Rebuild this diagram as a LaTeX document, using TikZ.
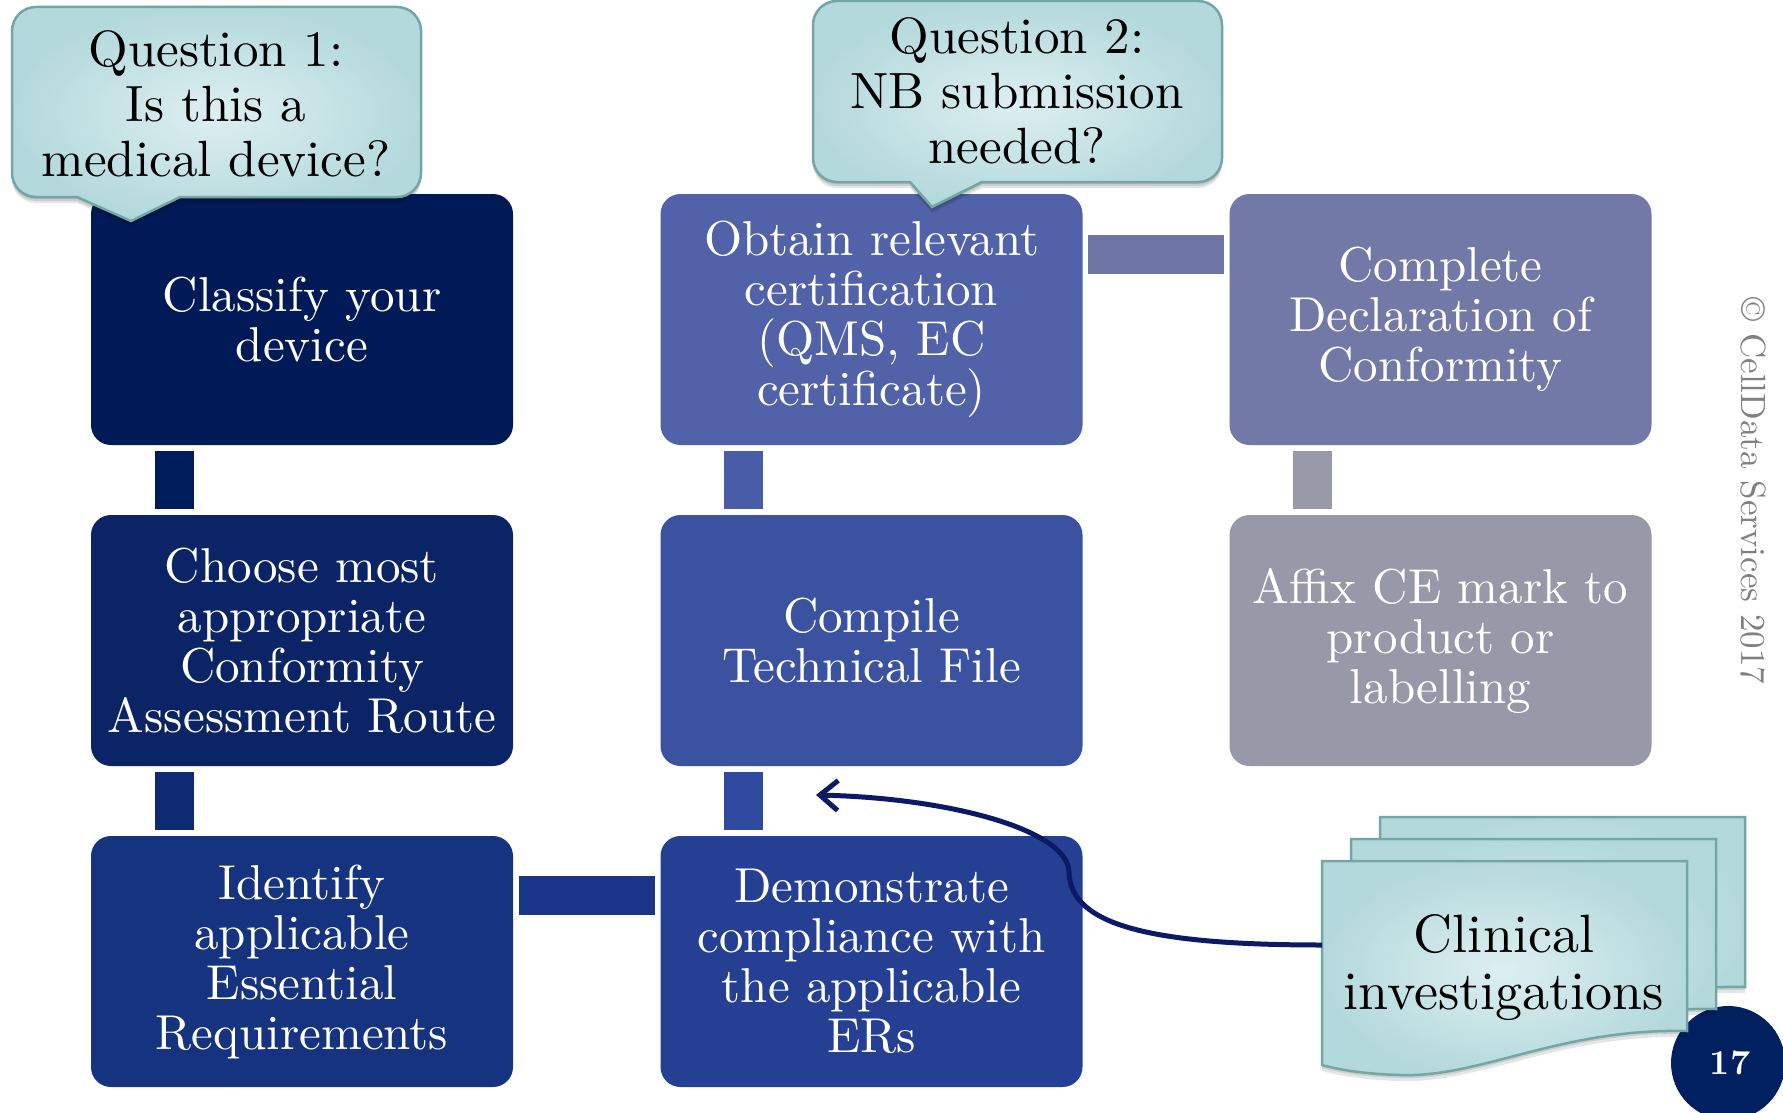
\documentclass[tikz,border=0pt]{standalone}
\usepackage{fontspec}
\setmainfont{lmroman10}[Extension=.otf, UprightFont=*-regular, BoldFont=*-bold]
\usetikzlibrary{arrows.meta,calc}

\definecolor{boxA}{HTML}{001A57}
\definecolor{boxB}{HTML}{0A2466}
\definecolor{boxC}{HTML}{15337F}
\definecolor{boxD}{HTML}{253F93}
\definecolor{boxE}{HTML}{3A529F}
\definecolor{boxF}{HTML}{5162A8}
\definecolor{boxG}{HTML}{7379A6}
\definecolor{boxH}{HTML}{9899A8}
\definecolor{barA}{HTML}{001C5A}
\definecolor{barB}{HTML}{0E2A72}
\definecolor{barC}{HTML}{1B3688}
\definecolor{barD}{HTML}{2E499E}
\definecolor{barE}{HTML}{485CA8}
\definecolor{barF}{HTML}{6E74A4}
\definecolor{barG}{HTML}{989AA9}
\definecolor{tealin}{HTML}{DDEFF1}
\definecolor{tealout}{HTML}{B4D9DC}
\definecolor{tealedge}{HTML}{74A6A6}
\definecolor{arrownavy}{HTML}{0A1A66}
\definecolor{pagenavy}{HTML}{002060}
\definecolor{copygray}{HTML}{808080}

\tikzset{
  qonepath/.style={insert path={
    (36,7) -- (397,7) .. controls (410.25,7) and (421,17.75) .. (421,31)
    -- (421,173) .. controls (421,186.25) and (410.25,197) .. (397,197)
    -- (180,197) -- (131,221) -- (77,197)
    -- (36,197) .. controls (22.75,197) and (12,186.25) .. (12,173)
    -- (12,31) .. controls (12,17.75) and (22.75,7) .. (36,7) -- cycle}},
  qtwopath/.style={insert path={
    (837,1) -- (1198,1) .. controls (1211.25,1) and (1222,11.75) .. (1222,25)
    -- (1222,158) .. controls (1222,171.25) and (1211.25,182) .. (1198,182)
    -- (982,182) -- (932,207) -- (910,182)
    -- (837,182) .. controls (823.75,182) and (813,171.25) .. (813,158)
    -- (813,25) .. controls (813,11.75) and (823.75,1) .. (837,1) -- cycle}},
  pagepath/.style={insert path={
    (1322,861) -- (1687,861) -- (1687,1031)
    .. controls (1560,1028) and (1480,1078) .. (1400,1075)
    .. controls (1365,1074) and (1340,1070) .. (1322,1065) -- cycle}},
}

\begin{document}
\begin{tikzpicture}[x=1pt,y=-1pt,
  stepbox/.style={rounded corners=20pt, minimum width=422pt, minimum height=251pt,
    text=white, align=center, inner sep=0pt, font=\fontsize{49}{50}\selectfont},
  bar/.style={line width=39pt},
  bubble/.style={inner color=tealin, outer color=tealout, draw=tealedge, line width=2.5pt},
  bubbleshadow/.style={fill=black, opacity=0.10},
  bubbletext/.style={align=center, font=\fontsize{51}{55}\selectfont},
]
\useasboundingbox (0,0) rectangle (1783,1113);
\fill[white] (0,0) rectangle (1783,1113);

% process boxes
\node[stepbox, fill=boxA] (b11) at (302,319.5) {Classify your\\device};
\node[stepbox, fill=boxB] (b21) at (302,640.5) {Choose most\\appropriate\\Conformity\\Assessment Route};
\node[stepbox, fill=boxC] (b31) at (302,961.5) {Identify\\applicable\\Essential\\Requirements};
\node[stepbox, fill=boxD] (b32) at (871.5,961.5) {Demonstrate\\compliance with\\the applicable\\ERs};
\node[stepbox, fill=boxE] (b22) at (871.5,640.5) {Compile\\Technical File};
\node[stepbox, fill=boxF] (b12) at (871.5,319.5) {Obtain relevant\\certification\\(QMS, EC\\certificate)};
\node[stepbox, fill=boxG] (b13) at (1440.5,319.5) {Complete\\Declaration of\\Conformity};
\node[stepbox, fill=boxH] (b23) at (1440.5,640.5) {Affix CE mark to\\product or\\labelling};

% connecting bars
\draw[bar, barA] ([xshift=83.5pt,yshift=-6pt]b11.south west) -- ([xshift=83.5pt,yshift=6pt]b21.north west);
\draw[bar, barB] ([xshift=83.5pt,yshift=-6pt]b21.south west) -- ([xshift=83.5pt,yshift=6pt]b31.north west);
\draw[bar, barC] ([xshift=6pt,yshift=-60pt]b31.north east) -- ([xshift=-5pt,yshift=-60pt]b32.north west);
\draw[bar, barD] ([xshift=83.5pt,yshift=6pt]b32.north west) -- ([xshift=83.5pt,yshift=-6pt]b22.south west);
\draw[bar, barE] ([xshift=83.5pt,yshift=6pt]b22.north west) -- ([xshift=83.5pt,yshift=-6pt]b12.south west);
\draw[bar, barF] ([xshift=5pt,yshift=-60.5pt]b12.north east) -- ([xshift=-5pt,yshift=-60.5pt]b13.north west);
\draw[bar, barG] ([xshift=83.5pt,yshift=-6pt]b13.south west) -- ([xshift=83.5pt,yshift=6pt]b23.north west);

% question bubbles with soft shadows
\foreach \d in {2,4,6}{
  \fill[bubbleshadow, yshift=-\d pt, qonepath];
  \fill[bubbleshadow, yshift=-\d pt, qtwopath];
}
\shadedraw[bubble, qonepath];
\node[bubbletext] (q1) at (216,104) {Question 1:\\Is this a\\medical device?};
\shadedraw[bubble, qtwopath];
\node[bubbletext] (q2) at (1017,91) {Question 2:\\NB submission\\needed?};

% slide number
\node[circle, fill=pagenavy, minimum size=114pt, inner sep=0pt] (pg) at (1728,1063) {};
\node[text=white, font=\fontsize{35}{35}\selectfont\bfseries] (pgnum) at (1730,1063) {17};

% stacked document pages
\foreach \dx/\dy in {58/-44, 29/-22, 0/0}{
  \begin{scope}[shift={(\dx,\dy)}]
    \fill[black, opacity=0.10, yshift=-3pt, pagepath];
    \fill[black, opacity=0.10, yshift=-6pt, pagepath];
    \shadedraw[bubble, pagepath];
  \end{scope}
}
\coordinate (docw) at (1322,945);
\node[align=center, font=\fontsize{54}{57}\selectfont] (clin) at (1504,968) {Clinical\\investigations};

% link from the clinical data to the technical file
\coordinate (tfin) at (816,795);
\draw[arrownavy, line width=5pt, -{Straight Barb[length=18pt,width=30pt]}]
  (docw) .. controls (1150,945) and (1070,925) .. (1069,872)
  .. controls (1068,830) and (950,798) .. (tfin);

% copyright line
\node[rotate=-90, text=copygray, font=\fontsize{35}{35}\selectfont] (copy) at (1753,491) {© CellData Services 2017};
\end{tikzpicture}
\end{document}
